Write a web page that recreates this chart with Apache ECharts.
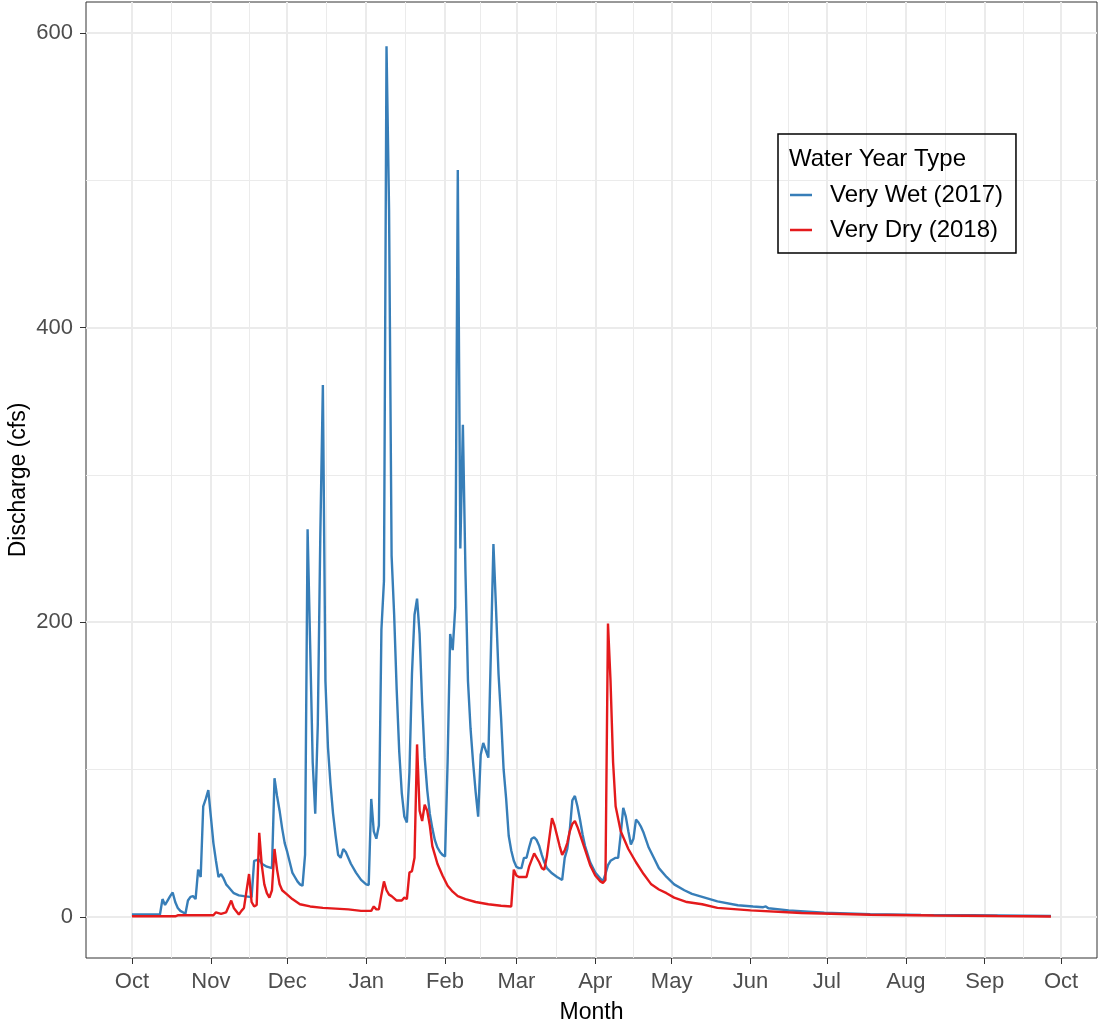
<!DOCTYPE html>
<html>
<head>
<meta charset="utf-8">
<script src="https://cdn.jsdelivr.net/npm/echarts@6/dist/echarts.min.js"></script>
<style>html,body{margin:0;padding:0;background:#fff}#c{width:1099px;height:1025px}</style>
</head>
<body>
<div id="c"></div>
<script>
// Day of water year (0 = Oct 1) for month starts and their labels
const monthStartDays = [0, 31, 61, 92, 123, 151, 182, 212, 243, 273, 304, 335, 365];
const monthLabels = ['Oct', 'Nov', 'Dec', 'Jan', 'Feb', 'Mar', 'Apr', 'May', 'Jun', 'Jul', 'Aug', 'Sep', 'Oct'];
const yTicks = [0, 200, 400, 600];
const yMinorTicks = [100, 300, 500];
const seriesNames = ['Very Wet (2017)', 'Very Dry (2018)'];

// Very Wet (2017): day of water year, discharge (cfs)
const wetDays = [0, 11, 12, 13, 14, 15, 16, 17, 18, 19, 20, 21, 22, 23, 24, 25, 26, 27, 28, 29, 30, 31, 32, 33, 34, 35, 36, 37, 38, 40, 42, 44, 47, 48, 49, 50, 51, 53, 55, 56, 57, 58, 59, 60, 61, 62, 63, 64, 65, 66, 67, 68, 69, 70, 71, 72, 73, 74, 75, 76, 77, 78, 79, 80, 81, 82, 83, 84, 86, 88, 90, 92, 93, 94, 95, 96, 97, 98, 99, 100, 101, 102, 103, 104, 105, 106, 107, 108, 109, 110, 111, 112, 113, 114, 115, 116, 117, 118, 119, 120, 121, 122, 123, 124, 125, 126, 127, 128, 129, 130, 131, 132, 133, 134, 135, 136, 137, 138, 139, 140, 141, 142, 143, 144, 145, 146, 147, 148, 149, 150, 151, 152, 153, 154, 155, 156, 157, 158, 159, 160, 161, 162, 163, 165, 167, 169, 170, 171, 172, 173, 174, 175, 176, 177, 178, 180, 182, 184, 185, 186, 187, 188, 189, 190, 191, 192, 193, 194, 195, 196, 197, 198, 199, 200, 201, 203, 205, 207, 210, 213, 217, 220, 224, 230, 238, 244, 248, 249, 250, 258, 272, 290, 310, 330, 350, 361];
const wetQ = [1.5, 1.5, 12, 8, 11, 14, 16.5, 10, 6, 4, 3, 2, 11, 13.5, 14, 12, 32, 27, 75, 80, 86, 68, 50, 38, 27, 29, 26, 22, 20, 16, 14.5, 14, 13.3, 38, 38.5, 38.7, 36, 34, 33, 94, 82, 72, 60, 50, 44, 37, 30, 27, 24, 22, 21, 42, 263, 185, 105, 70, 130, 260, 361, 160, 115, 90, 70, 55, 42, 40, 46, 44, 36, 30, 25, 22, 21.5, 80, 58, 53, 62, 195, 228, 591, 480, 245, 205, 154, 112, 84, 68, 64, 98, 165, 205, 216, 192, 145, 108, 86, 70, 60, 52, 47, 44, 42, 41, 105, 192, 181, 210, 507, 250, 334, 235, 160, 128, 105, 85, 68, 110, 118, 113, 108, 180, 253, 210, 165, 135, 100, 80, 55, 45, 38, 34, 33, 33, 40, 40, 47, 53, 54, 52, 48, 42, 37, 33, 29.5, 27, 25, 40, 46, 59, 79, 82, 75, 66, 56, 48, 37, 30, 26, 24, 29, 35, 38, 39, 40, 40, 56, 74, 68, 58, 49, 53, 66, 64, 61, 57, 47, 40, 33, 27, 22, 18, 15.5, 13.5, 10.4, 7.8, 7, 6.5, 7, 5.8, 4.3, 2.7, 1.8, 1.3, 1.1, 0.8, 0.5];

// Very Dry (2018): day of water year, discharge (cfs)
const dryDays = [0, 17, 18, 32, 33, 35, 37, 39, 40, 42, 43, 44, 46, 47, 48, 49, 50, 51, 52, 53, 54, 55, 56, 57, 58, 59, 61, 63, 66, 70, 75, 80, 85, 90, 94, 95, 96, 97, 98, 99, 100, 101, 102, 104, 106, 107, 108, 109, 110, 111, 112, 113, 114, 115, 116, 117, 118, 119, 120, 122, 124, 126, 128, 131, 135, 140, 145, 149, 150, 151, 152, 155, 156, 158, 160, 161, 162, 163, 165, 166, 167, 168, 169, 170, 171, 172, 173, 174, 175, 176, 178, 180, 182, 184, 185, 186, 187, 188, 189, 190, 192, 195, 198, 201, 204, 207, 210, 213, 218, 224, 230, 243, 263, 290, 315, 340, 361];
const dryQ = [0.3, 0.3, 1, 1, 3, 2, 3, 11, 6, 1.5, 4, 6, 29, 10, 7, 8, 57, 35, 22, 16, 13, 18, 46, 32, 22, 18, 15, 12, 8.5, 7, 6, 5.5, 5, 4, 4, 7, 5, 5, 15, 24, 18, 15, 14, 11, 11, 13, 12, 30, 31, 40, 117, 72, 65, 76, 72, 62, 48, 42, 36, 28, 21, 17, 14, 12, 10, 8.5, 7.5, 7, 32, 28, 27, 27, 34, 43, 37, 33, 32, 41, 67, 62, 55, 48, 42, 45, 50, 58, 63, 65, 61, 56, 45.5, 35, 28, 24, 23, 25, 199, 160, 105, 75, 58, 46, 37, 29, 22, 18.5, 16, 13, 10, 8.5, 6, 4.3, 2.5, 1.4, 0.9, 0.5, 0.2];

const FONT = '"Liberation Sans", Arial, sans-serif';
const zip = (xs, ys) => xs.map((x, i) => [x, ys[i]]);
// mid-month minor gridline positions (midpoints between month starts)
const xMinorTicks = monthStartDays.slice(1).map((d, i) => (d + monthStartDays[i]) / 2);

const chart = echarts.init(document.getElementById('c'), null, {renderer: 'canvas'});
chart.setOption({
  animation: false,
  backgroundColor: '#ffffff',
  grid: {left: 86, right: 2, top: 2, bottom: 67, containLabel: false, outerBoundsMode: 'none',
    show: true, borderColor: '#333333', borderWidth: 1, backgroundColor: 'transparent'},
  title: {
    text: 'Water Year Type', left: 789, top: 147, padding: 0,
    textStyle: {fontFamily: FONT, fontSize: 24, fontWeight: 'normal', color: '#000'}
  },
  legend: {
    orient: 'vertical', left: 778, top: 134,
    padding: [49, 13, 11, 12],
    icon: 'rect',
    itemWidth: 22, itemHeight: 2.5, itemGap: 11,
    borderColor: '#000', borderWidth: 1.5,
    data: seriesNames,
    textStyle: {fontFamily: FONT, fontSize: 24, color: '#000', lineHeight: 20, padding: [0, 0, 0, 13]}
  },
  xAxis: [
    {
      type: 'value', min: -18.05, max: 379.1, gridIndex: 0, position: 'bottom',
      name: 'Month', nameLocation: 'middle', nameGap: 43,
      nameTextStyle: {fontFamily: FONT, fontSize: 23, color: '#000'},
      axisLine: {show: false, onZero: false},
      axisTick: {show: true, length: 6, lineStyle: {color: '#333', width: 1}, customValues: monthStartDays},
      axisLabel: {customValues: monthStartDays, margin: 13, fontFamily: FONT, fontSize: 22, color: '#4D4D4D',
        formatter: v => monthLabels[monthStartDays.indexOf(v)] || ''},
      splitLine: {show: true, lineStyle: {color: '#EBEBEB', width: 2}},
      z: 2
    },
    {
      type: 'value', min: -18.05, max: 379.1, gridIndex: 0, position: 'top',
      axisLine: {show: false, onZero: false},
      axisTick: {show: false, customValues: xMinorTicks},
      axisLabel: {show: false},
      splitLine: {show: true, lineStyle: {color: '#EBEBEB', width: 1}},
      z: 1
    }
  ],
  yAxis: [
    {
      type: 'value', min: -28, max: 621, gridIndex: 0, position: 'left',
      name: 'Discharge (cfs)', nameLocation: 'middle', nameGap: 56, nameMoveOverlap: false,
      nameTextStyle: {fontFamily: FONT, fontSize: 23, color: '#000'},
      axisLine: {show: false, onZero: false},
      axisTick: {show: true, length: 6, lineStyle: {color: '#333', width: 1}, customValues: yTicks},
      axisLabel: {customValues: yTicks, margin: 13, fontFamily: FONT, fontSize: 22, color: '#4D4D4D'},
      splitLine: {show: true, lineStyle: {color: '#EBEBEB', width: 2}},
      z: 2
    },
    {
      type: 'value', min: -28, max: 621, gridIndex: 0, position: 'right',
      axisLine: {show: false, onZero: false},
      axisTick: {show: false, customValues: yMinorTicks},
      axisLabel: {show: false},
      splitLine: {show: true, lineStyle: {color: '#EBEBEB', width: 1}},
      z: 1
    }
  ],
  series: [
    {
      name: seriesNames[0], type: 'line', xAxisIndex: 0, yAxisIndex: 0,
      data: zip(wetDays, wetQ), symbol: 'none', showSymbol: false,
      lineStyle: {color: '#377EB8', width: 2.4}, itemStyle: {color: '#377EB8'}, z: 3
    },
    {
      name: seriesNames[1], type: 'line', xAxisIndex: 0, yAxisIndex: 0,
      data: zip(dryDays, dryQ), symbol: 'none', showSymbol: false,
      lineStyle: {color: '#E41A1C', width: 2.4}, itemStyle: {color: '#E41A1C'}, z: 4
    }
  ]
});
</script>
</body>
</html>
